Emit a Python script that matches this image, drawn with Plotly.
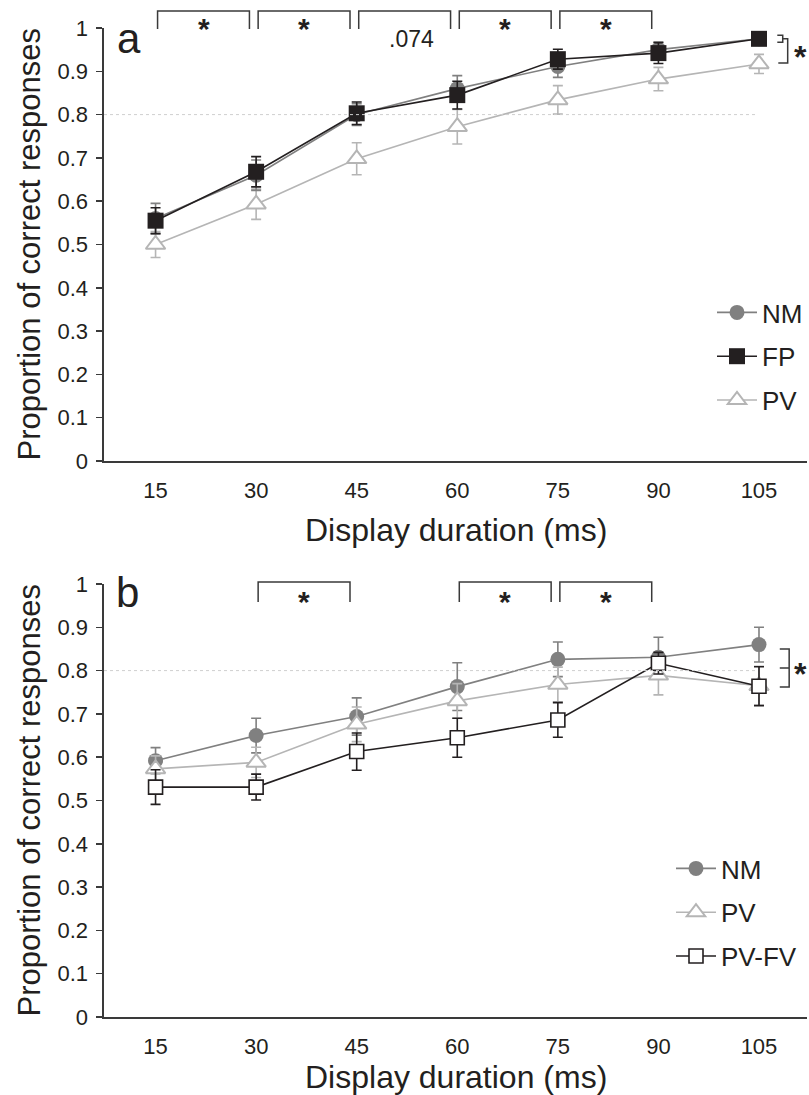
import plotly.graph_objects as go

# ---------------- data ----------------
durations = [15, 30, 45, 60, 75, 90, 105]
tick_labels = ["15", "30", "45", "60", "75", "90", "105"]

# panel a
a_nm = [0.560, 0.660, 0.800, 0.860, 0.911, 0.950, 0.975]
a_nm_err = [0.035, 0.035, 0.025, 0.030, 0.025, 0.018, 0.010]
a_fp = [0.555, 0.668, 0.803, 0.845, 0.928, 0.942, 0.975]
a_fp_err = [0.030, 0.035, 0.026, 0.032, 0.023, 0.024, 0.010]
a_pv = [0.500, 0.593, 0.698, 0.772, 0.834, 0.882, 0.917]
a_pv_err = [0.030, 0.035, 0.037, 0.040, 0.033, 0.027, 0.022]

# panel b
b_nm = [0.592, 0.650, 0.694, 0.763, 0.826, 0.831, 0.860]
b_nm_err = [0.030, 0.040, 0.043, 0.055, 0.040, 0.046, 0.040]
b_pv = [0.573, 0.588, 0.676, 0.730, 0.768, 0.789, 0.765]
b_pv_err = [0.030, 0.035, 0.040, 0.040, 0.040, 0.045, 0.045]
b_pvfv = [0.531, 0.531, 0.613, 0.645, 0.686, 0.817, 0.764]
b_pvfv_err = [0.040, 0.030, 0.043, 0.045, 0.040, 0.025, 0.045]

# significance labels between adjacent durations
a_sig = [(15, 30, "*"), (30, 45, "*"), (45, 60, ".074"), (60, 75, "*"), (75, 90, "*")]
b_sig = [(30, 45, "*"), (60, 75, "*"), (75, 90, "*")]

# ---------------- style / geometry ----------------
FONT = "Liberation Sans, Arial, Helvetica, sans-serif"
DARK = "#231f20"
C_NM = "#808080"
C_PV = "#b5b5b5"
C_FP = "#231f20"

W, H = 809, 1095


def xp(px):             # pixel -> paper fraction
    return px / W


def yp(py):
    return 1 - py / H


X_RANGE = [7.31, 112.16]
X_DOMAIN = [xp(104), xp(807)]
YA_DOMAIN = [yp(461), yp(28)]
YB_DOMAIN = [yp(1017), yp(584)]

fig = go.Figure()


def add(x, y, err, name, color, symbol, fill, size, lw, xa, ya, legend, rank):
    fig.add_trace(go.Scatter(
        x=x, y=y, name=name, mode="lines+markers",
        xaxis=xa, yaxis=ya, legend=legend, legendrank=rank, legendgroup=legend + name,
        line=dict(color=color, width=1.6),
        marker=dict(symbol=symbol, size=size, color=fill,
                    line=dict(color=color, width=lw)),
        error_y=dict(type="data", array=err, visible=True, color=color,
                     thickness=1.6, width=5),
        cliponaxis=False,
    ))


# panel a (draw order: PV, NM, FP)
add(durations, a_pv, a_pv_err, "PV", C_PV, "triangle-up", "white", 17, 2, "x", "y", "legend", 3)
add(durations, a_nm, a_nm_err, "NM", C_NM, "circle", C_NM, 15, 0, "x", "y", "legend", 1)
add(durations, a_fp, a_fp_err, "FP", C_FP, "square", C_FP, 16, 0, "x", "y", "legend", 2)

# panel b
add(durations, b_nm, b_nm_err, "NM", C_NM, "circle", C_NM, 15, 0, "x2", "y2", "legend2", 1)
add(durations, b_pv, b_pv_err, "PV", C_PV, "triangle-up", "white", 17, 2, "x2", "y2", "legend2", 2)
add(durations, b_pvfv, b_pvfv_err, "PV-FV", C_FP, "square", "white", 14, 1.6, "x2", "y2", "legend2", 3)

axis_common = dict(showline=True, linecolor="#3a3a3a", linewidth=1.6, showgrid=False,
                   zeroline=False, automargin=False,
                   tickfont=dict(family=FONT, size=22, color=DARK))
xcommon = dict(axis_common, range=X_RANGE, domain=X_DOMAIN, tickvals=durations,
               ticktext=tick_labels, ticks="", ticklabelstandoff=9)
ycommon = dict(axis_common, range=[0, 1], tickvals=[i / 10 for i in range(11)],
               ticks="outside", ticklen=6, tickwidth=1.5, tickcolor="#3a3a3a",
               ticklabelstandoff=4)

legend_common = dict(xanchor="left", yanchor="top", bgcolor="rgba(0,0,0,0)",
                     font=dict(family=FONT, size=26, color=DARK),
                     traceorder="grouped", tracegroupgap=7, itemwidth=40)

fig.update_layout(
    width=W, height=H, margin=dict(l=0, r=0, t=0, b=0, pad=0, autoexpand=False),
    paper_bgcolor="white", plot_bgcolor="white",
    xaxis=dict(xcommon, anchor="y"),
    yaxis=dict(ycommon, domain=YA_DOMAIN, anchor="x"),
    xaxis2=dict(xcommon, anchor="y2"),
    yaxis2=dict(ycommon, domain=YB_DOMAIN, anchor="x2"),
    legend=dict(legend_common, x=xp(712), y=yp(289)),
    legend2=dict(legend_common, x=xp(671), y=yp(845)),
    showlegend=True,
)

shapes = []
annotations = []

# dotted 0.8 reference line
for xr, yr in (("x", "y"), ("x2", "y2")):
    shapes.append(dict(type="line", xref=xr, yref=yr, x0=X_RANGE[0], x1=104.5, y0=0.8, y1=0.8,
                       line=dict(color="#cfcfcf", width=1, dash="dot")))


def bracket_top(x0, x1, ytop_px, ybot_px, xref):
    ytop = yp(ytop_px)
    ybot = yp(ybot_px)
    path = f"M {x0},{ybot} L {x0},{ytop} L {x1},{ytop} L {x1},{ybot}"
    return dict(type="path", xref=xref, yref="paper", path=path,
                line=dict(color="#3a3a3a", width=1.5))


def text(x, y, s, size, xref="paper", yref="paper", **kw):
    return dict(x=x, y=y, xref=xref, yref=yref, text=s, showarrow=False,
                xanchor="center", yanchor="middle",
                font=dict(family=FONT, size=size, color=DARK), **kw)


for x0, x1, lab in a_sig:
    shapes.append(bracket_top(x0 + 0.3, x1 - 1.0, 11, 29, "x"))
    if lab == "*":
        annotations.append(text((x0 + x1) / 2 - 0.35, yp(29), "<b>*</b>", 30, xref="x"))
    else:
        annotations.append(text((x0 + x1) / 2 + 0.7, yp(39), lab, 23, xref="x"))

for x0, x1, lab in b_sig:
    shapes.append(bracket_top(x0 + 0.3, x1 - 1.0, 582, 602, "x2"))
    annotations.append(text((x0 + x1) / 2 - 0.35, yp(601), "<b>*</b>", 30, xref="x2"))

# right-side brackets, panel a
last = durations[-1]
top_mid = (a_nm[-1] + a_fp[-1]) / 2
sx0, sx1, bx1 = last + 2.73, last + 3.54, last + 4.28
shapes.append(dict(type="path", xref="x", yref="y",
                   path=f"M {sx0},{top_mid + 0.008} L {sx1},{top_mid + 0.008} L {sx1},{top_mid - 0.008} L {sx0},{top_mid - 0.008}",
                   line=dict(color="#3a3a3a", width=1.5)))
shapes.append(dict(type="path", xref="x", yref="y",
                   path=f"M {sx1},{top_mid} L {bx1},{top_mid} L {bx1},{a_pv[-1] + 0.002} L {last + 2.88},{a_pv[-1] + 0.002}",
                   line=dict(color="#3a3a3a", width=1.5)))
annotations.append(text(last + 6.2, (top_mid + a_pv[-1]) / 2 - 0.014, "<b>*</b>", 32,
                        xref="x", yref="y"))

# right-side bracket, panel b
btop = b_nm[-1] - 0.01
bbot = b_pvfv[-1] - 0.002
bmid = (btop + bbot) / 2
cx0, cx1 = last + 3.1, last + 4.5
shapes.append(dict(type="path", xref="x2", yref="y2",
                   path=f"M {cx0},{btop} L {cx1},{btop} L {cx1},{bbot} L {cx0},{bbot} M {cx0},{bmid} L {cx1},{bmid}",
                   line=dict(color="#3a3a3a", width=1.5)))
annotations.append(text(last + 6.2, bmid - 0.014, "<b>*</b>", 32, xref="x2", yref="y2"))

# axis titles and panel letters
ytitle = "Proportion of correct responses"
xtitle = "Display duration (ms)"
xc = (X_DOMAIN[0] + X_DOMAIN[1]) / 2
for dom, xt_px in ((YA_DOMAIN, 530), (YB_DOMAIN, 1077)):
    annotations.append(text(xp(29), (dom[0] + dom[1]) / 2, ytitle, 31, textangle=-90))
    annotations.append(text(xc, yp(xt_px), xtitle, 32))

annotations.append(text(xp(129), yp(39), "a", 42))
annotations.append(text(xp(128), yp(592), "b", 42))

fig.update_layout(shapes=shapes, annotations=annotations)
# place the figure flush with the window (no default body margin), no mode bar
fig.write_html("out.html",
               config={"displayModeBar": False, "staticPlot": True},
               post_script="document.body.style.margin='0px';document.body.style.overflow='hidden';")
